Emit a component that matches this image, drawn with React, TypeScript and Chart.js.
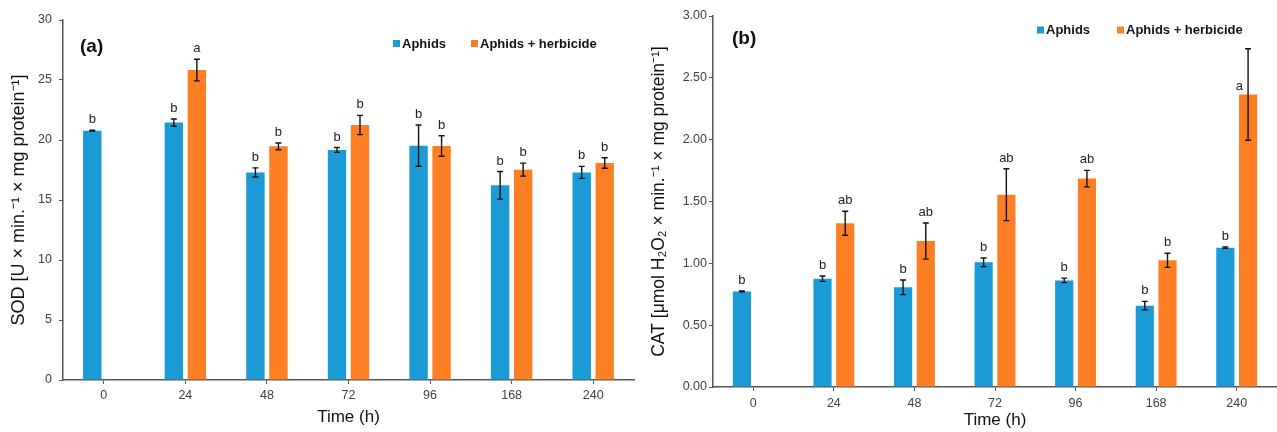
import React, { useEffect, useRef } from 'react';
import { Chart, registerables } from 'chart.js';

Chart.register(...registerables);

const FONT = '"Liberation Sans", Arial, Helvetica, sans-serif';
Chart.defaults.font.family = FONT;

// ---- data ----
const timeLabels = ['0', '24', '48', '72', '96', '168', '240'];

const sodAphids = [20.78, 21.45, 17.3, 19.17, 19.53, 16.22, 17.3];
const sodAphidsErr = [0.04, 0.3, 0.38, 0.2, 1.72, 1.15, 0.5];
const sodHerb = [null, 25.83, 19.47, 21.25, 19.5, 17.53, 18.08];
const sodHerbErr = [null, 0.9, 0.28, 0.8, 0.85, 0.54, 0.44];
const sodAphidsLetters = ['b', 'b', 'b', 'b', 'b', 'b', 'b'];
const sodHerbLetters = ['', 'a', 'b', 'b', 'b', 'b', 'b'];

const catAphids = [0.773, 0.876, 0.806, 1.008, 0.862, 0.658, 1.127];
const catAphidsErr = [0.004, 0.022, 0.059, 0.035, 0.018, 0.034, 0.006];
const catHerb = [null, 1.324, 1.18, 1.555, 1.685, 1.024, 2.365];
const catHerbErr = [null, 0.097, 0.146, 0.21, 0.067, 0.057, 0.37];
const catAphidsLetters = ['b', 'b', 'b', 'b', 'b', 'b', 'b'];
const catHerbLetters = ['', 'ab', 'ab', 'ab', 'ab', 'b', 'a'];

const seriesNames = ['Aphids', 'Aphids + herbicide'];
const BLUE = '#1a9bd6';
const ORANGE = '#fe7f23';

const annotPlugin = {
  id: 'annot',
  afterDatasetsDraw(chart: any, _args: any, opts: any) {
    const ctx = chart.ctx;
    const ys = chart.scales.y;
    const side: number[][] = opts.sideLetters || [];
    chart.data.datasets.forEach((ds: any, di: number) => {
      const meta = chart.getDatasetMeta(di);
      meta.data.forEach((el: any, i: number) => {
        const v = ds.data[i];
        if (v == null) return;
        const e = ds.errors[i] || 0;
        const x = el.x;
        const yt = ys.getPixelForValue(v + e);
        const yb = ys.getPixelForValue(v - e);
        ctx.save();
        ctx.strokeStyle = '#111';
        ctx.lineWidth = 1.4;
        ctx.beginPath();
        ctx.moveTo(x, yt);
        ctx.lineTo(x, yb);
        ctx.moveTo(x - 3, yt);
        ctx.lineTo(x + 3, yt);
        ctx.moveTo(x - 3, yb);
        ctx.lineTo(x + 3, yb);
        ctx.stroke();
        const L = ds.letters[i];
        if (L) {
          ctx.font = '13px ' + FONT;
          ctx.fillStyle = '#222';
          ctx.textBaseline = 'alphabetic';
          const isSide = side.some((p) => p[0] === di && p[1] === i);
          if (isSide) {
            ctx.textAlign = 'right';
            ctx.fillText(L, x - 5, el.y - 5);
          } else {
            ctx.textAlign = 'center';
            ctx.fillText(L, x, yt - 7);
          }
        }
        ctx.restore();
      });
    });
  },
  afterDraw(chart: any, _args: any, opts: any) {
    const ctx = chart.ctx;
    ctx.save();
    ctx.font = 'bold 19px ' + FONT;
    ctx.fillStyle = '#111';
    ctx.textAlign = 'left';
    ctx.textBaseline = 'middle';
    ctx.fillText(opts.panel.text, opts.panel.x, opts.panel.y);
    ctx.font = 'bold 13px ' + FONT;
    chart.data.datasets.forEach((ds: any, di: number) => {
      const lx = opts.legend.xs[di];
      const ly = opts.legend.y;
      ctx.fillStyle = ds.backgroundColor;
      ctx.fillRect(lx, ly - 3.5, 7, 7);
      ctx.fillStyle = '#111';
      ctx.fillText(ds.label, lx + 9, ly + 0.5);
    });
    ctx.restore();
  },
};

function makeConfig(p: any) {
  return {
    type: 'bar',
    data: {
      labels: timeLabels,
      datasets: [
        {
          label: seriesNames[0],
          data: p.a,
          errors: p.aErr,
          letters: p.aLet,
          backgroundColor: BLUE,
          categoryPercentage: 0.564,
          barPercentage: 0.8,
        },
        {
          label: seriesNames[1],
          data: p.h,
          errors: p.hErr,
          letters: p.hLet,
          backgroundColor: ORANGE,
          categoryPercentage: 0.564,
          barPercentage: 0.8,
        },
      ],
    },
    options: {
      responsive: false,
      animation: false,
      devicePixelRatio: 1,
      layout: { padding: p.padding },
      plugins: {
        legend: { display: false },
        tooltip: { enabled: false },
        annot: { panel: p.panel, legend: p.legend, sideLetters: p.sideLetters || [] },
      },
      scales: {
        x: {
          grid: { offset: false, drawOnChartArea: false, drawTicks: true, tickLength: 4, color: '#555', lineWidth: 1 },
          border: { display: true, color: '#555', width: 1.5 },
          ticks: { color: '#404040', font: { size: 12.5 }, padding: p.xTickPad },
          title: { display: true, text: 'Time (h)', color: '#111', font: { size: 17 }, padding: { top: 0, bottom: p.xTitlePad } },
          afterFit: (s: any) => {
            s.height = p.xHeight;
          },
        },
        y: {
          min: 0,
          max: p.yMax,
          ticks: {
            stepSize: p.yStep,
            color: '#404040',
            font: { size: 12.5 },
            padding: p.yTickPad,
            callback: (v: any) => Number(v).toFixed(p.decimals),
          },
          grid: { drawOnChartArea: false, drawTicks: true, tickLength: 4, color: '#555', lineWidth: 1 },
          border: { display: true, color: '#555', width: 1.5 },
          title: { display: true, text: p.yTitle, color: '#111', font: { size: p.yTitleSize }, padding: { top: p.yTitlePad, bottom: 0 } },
          afterFit: (s: any) => {
            s.width = p.yWidth;
          },
        },
      },
    },
    plugins: [annotPlugin],
  } as any;
}

const sodConfig = () =>
  makeConfig({
    a: sodAphids,
    aErr: sodAphidsErr,
    aLet: sodAphidsLetters,
    h: sodHerb,
    hErr: sodHerbErr,
    hLet: sodHerbLetters,
    yMax: 30,
    yStep: 5,
    decimals: 0,
    yTitle: 'SOD [U × min.⁻¹ × mg protein⁻¹]',
    yTitleSize: 18,
    padding: { left: 0, right: 6, top: 20, bottom: 0 },
    xHeight: 52,
    yWidth: 63,
    xTickPad: 4,
    yTickPad: 7,
    xTitlePad: 4,
    yTitlePad: 8,
    panel: { text: '(a)', x: 80, y: 47 },
    legend: { y: 43.5, xs: [393, 471] },
  });

const catConfig = () =>
  makeConfig({
    a: catAphids,
    aErr: catAphidsErr,
    aLet: catAphidsLetters,
    h: catHerb,
    hErr: catHerbErr,
    hLet: catHerbLetters,
    yMax: 3,
    yStep: 0.5,
    decimals: 2,
    yTitle: 'CAT [μmol H₂O₂ × min.⁻¹ × mg protein⁻¹]',
    yTitleSize: 17.5,
    padding: { left: 0, right: 0, top: 16, bottom: 0 },
    xHeight: 45,
    yWidth: 73,
    xTickPad: 5,
    yTickPad: 2,
    xTitlePad: 1,
    yTitlePad: 9,
    panel: { text: '(b)', x: 92, y: 39 },
    legend: { y: 30, xs: [397, 477] },
    sideLetters: [[1, 6]],
  });

function Panel({ cfg, left, width }: { cfg: () => any; left: number; width: number }) {
  const ref = useRef<HTMLCanvasElement>(null);
  useEffect(() => {
    const chart = new Chart(ref.current as HTMLCanvasElement, cfg());
    return () => chart.destroy();
  }, []);
  return (
    <canvas
      ref={ref}
      width={width}
      height={432}
      style={{ position: 'absolute', left, top: 0, width, height: 432, display: 'block' }}
    />
  );
}

export default function App() {
  return (
    <div style={{ position: 'fixed', left: 0, top: 0, width: 1277, height: 432, background: '#fff', overflow: 'hidden' }}>
      <Panel cfg={sodConfig} left={0} width={640} />
      <Panel cfg={catConfig} left={640} width={637} />
    </div>
  );
}
